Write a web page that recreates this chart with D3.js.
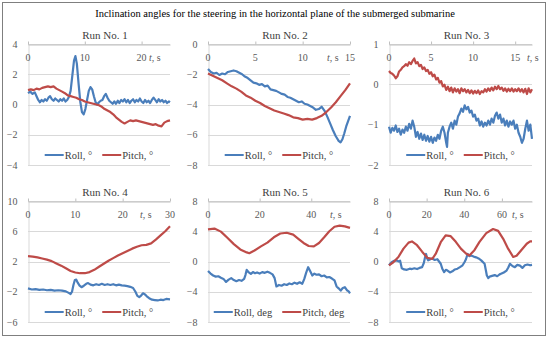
<!DOCTYPE html>
<html>
<head>
<meta charset="utf-8">
<script src="https://cdn.jsdelivr.net/npm/d3@7"></script>
<style>
  body { margin: 0; background: #fff; }
  svg { display: block; font-family: "Liberation Serif", "DejaVu Serif", serif; }
</style>
</head>
<body>
<div class="chart"></div>
<script>
const chartTitle = "Inclination angles for the steering in the horizontal plane of the submerged submarine";
const runTitles = ["Run No. 1", "Run No. 2", "Run No. 3", "Run No. 4", "Run No. 5", "Run No. 6"];
const legendLabels = [
  ["Roll, °", "Pitch, °"], ["Roll, °", "Pitch, °"], ["Roll, °", "Pitch, °"],
  ["Roll, °", "Pitch, °"], ["Roll, deg", "Pitch, deg"], ["Roll, °", "Pitch, °"]
];
const xDomains = [[0, 25], [0, 15], [0, 17], [0, 30], [0, 55], [0, 76]];
const xTickValues = [[0, 10, 20], [0, 5, 10, 15], [0, 5, 10, 15], [0, 10, 20, 30], [0, 20, 40], [0, 20, 40, 60]];
const yTickValues = [[-4, -2, 0, 2, 4], [-8, -6, -4, -2, 0], [-2, -1, 0, 1], [-6, -2, 2, 6, 10], [-8, -4, 0, 4, 8], [-8, -4, 0, 4, 8]];

// [t, deg]
const run1Roll = [[0,0.75],[0.4,0.85],[0.8,0.7],[1.2,0.8],[1.5,0.55],[1.8,0.3],[2.1,0.15],[2.4,0.3],[2.7,0.2],[3.0,0.35],[3.3,0.25],[3.6,0.45],[3.9,0.55],[4.2,0.35],[4.5,0.25],[4.8,0.4],[5.1,0.3],[5.4,0.2],[5.7,0.35],[6.0,0.25],[6.3,0.4],[6.6,0.2],[6.9,0.3],[7.2,0.5],[7.5,0.9],[7.8,1.9],[8.1,2.9],[8.35,3.2],[8.6,2.7],[8.9,1.4],[9.2,0.2],[9.5,-0.5],[9.8,-0.65],[10.1,-0.3],[10.4,0.3],[10.7,0.9],[11.0,1.15],[11.3,1.0],[11.6,0.55],[11.9,0.15],[12.2,0.0],[12.5,0.15],[12.8,0.25],[13.1,0.3],[13.4,0.55],[13.7,0.7],[14.0,0.45],[14.3,0.25],[14.6,0.15],[14.9,0.05],[15.2,0.2],[15.5,0.05],[15.8,0.25],[16.1,0.1],[16.4,0.3],[16.7,0.2],[17.0,0.35],[17.3,0.15],[17.6,0.3],[17.9,0.1],[18.2,0.25],[18.5,0.35],[18.8,0.15],[19.1,0.3],[19.4,0.2],[19.7,0.4],[20.0,0.2],[20.3,0.1],[20.6,0.3],[20.9,0.15],[21.2,0.25],[21.5,0.1],[21.8,0.3],[22.1,0.45],[22.4,0.3],[22.7,0.15],[23.0,0.35],[23.3,0.2],[23.6,0.3],[23.9,0.15],[24.2,0.25],[24.5,0.1],[24.8,0.2],[25,0.15]];
const run1Pitch = [[0,0.95],[0.5,1.0],[1.0,0.95],[1.5,1.05],[2.0,1.0],[2.5,1.1],[3.0,1.15],[3.5,1.2],[4.0,1.15],[4.5,1.2],[5.0,1.05],[5.5,0.95],[6.0,0.85],[6.5,0.75],[7.0,0.6],[7.5,0.55],[8.0,0.5],[8.5,0.45],[9.0,0.35],[9.5,0.3],[10.0,0.2],[10.5,0.15],[11.0,0.1],[11.5,0.05],[12.0,0.0],[12.5,-0.05],[13.0,-0.15],[13.5,-0.3],[14.0,-0.4],[14.5,-0.5],[15.0,-0.65],[15.5,-0.85],[16.0,-1.0],[16.5,-1.15],[17.0,-1.25],[17.5,-1.15],[18.0,-1.05],[18.5,-1.1],[19.0,-1.05],[19.5,-1.1],[20.0,-1.15],[20.5,-1.2],[21.0,-1.25],[21.5,-1.3],[22.0,-1.35],[22.5,-1.3],[23.0,-1.4],[23.5,-1.45],[24.0,-1.2],[24.5,-1.1],[25,-1.05]];

const run2Roll = [[0,-1.65],[0.3,-1.85],[0.6,-1.95],[0.9,-1.9],[1.2,-2.05],[1.5,-1.95],[1.8,-2.0],[2.1,-1.85],[2.4,-1.8],[2.7,-1.75],[3.0,-1.8],[3.3,-1.9],[3.6,-2.0],[3.9,-2.15],[4.2,-2.25],[4.5,-2.4],[4.8,-2.55],[5.1,-2.6],[5.4,-2.7],[5.7,-2.65],[6.0,-2.8],[6.3,-2.75],[6.6,-3.0],[6.9,-3.05],[7.2,-3.1],[7.5,-3.2],[7.8,-3.3],[8.1,-3.35],[8.4,-3.5],[8.7,-3.55],[9.0,-3.65],[9.3,-3.75],[9.6,-3.85],[9.9,-3.8],[10.2,-3.95],[10.5,-4.0],[10.8,-4.1],[11.1,-4.2],[11.4,-4.35],[11.7,-4.3],[12.0,-4.15],[12.3,-4.4],[12.6,-4.8],[12.9,-5.25],[13.2,-5.7],[13.5,-6.1],[13.8,-6.4],[14.0,-6.5],[14.2,-6.3],[14.4,-5.9],[14.6,-5.45],[14.8,-5.1],[15,-4.75]];
const run2Pitch = [[0,-1.95],[0.5,-2.1],[1.0,-2.25],[1.5,-2.4],[2.0,-2.6],[2.5,-2.8],[3.0,-2.95],[3.5,-3.15],[4.0,-3.4],[4.5,-3.55],[5.0,-3.75],[5.5,-3.9],[6.0,-4.1],[6.5,-4.25],[7.0,-4.4],[7.5,-4.5],[8.0,-4.6],[8.5,-4.7],[9.0,-4.85],[9.5,-4.9],[10.0,-5.0],[10.5,-4.95],[11.0,-5.0],[11.5,-4.9],[12.0,-4.75],[12.5,-4.5],[13.0,-4.2],[13.5,-3.85],[14.0,-3.45],[14.5,-3.05],[15,-2.6]];

const run3Roll = [[0,-1.05],[0.2,-1.2],[0.4,-1.08],[0.6,-1.15],[0.8,-1.02],[1.0,-1.18],[1.2,-1.1],[1.4,-1.25],[1.6,-1.12],[1.8,-1.2],[2.0,-1.05],[2.2,-1.15],[2.4,-0.98],[2.6,-1.1],[2.8,-0.9],[3.0,-1.05],[3.2,-1.3],[3.4,-1.18],[3.6,-1.35],[3.8,-1.22],[4.0,-1.38],[4.2,-1.25],[4.4,-1.4],[4.6,-1.28],[4.8,-1.42],[5.0,-1.3],[5.2,-1.45],[5.4,-1.32],[5.6,-1.4],[5.8,-1.25],[6.0,-1.35],[6.2,-1.15],[6.4,-1.05],[6.6,-1.2],[6.8,-1.45],[6.9,-1.55],[7.0,-1.2],[7.2,-1.05],[7.4,-0.95],[7.6,-1.1],[7.8,-0.9],[8.0,-1.0],[8.2,-0.8],[8.4,-0.72],[8.6,-0.6],[8.8,-0.68],[9.0,-0.52],[9.2,-0.62],[9.4,-0.56],[9.6,-0.7],[9.8,-0.65],[10.0,-0.8],[10.2,-0.75],[10.4,-0.9],[10.6,-0.85],[10.8,-1.02],[11.0,-0.92],[11.2,-1.05],[11.4,-0.95],[11.6,-1.02],[11.8,-0.9],[12.0,-1.0],[12.2,-0.85],[12.4,-0.95],[12.6,-0.78],[12.8,-0.7],[13.0,-0.85],[13.2,-0.75],[13.4,-0.95],[13.6,-0.85],[13.8,-1.02],[14.0,-0.9],[14.2,-1.05],[14.4,-0.92],[14.6,-1.0],[14.8,-0.9],[15.0,-1.1],[15.2,-1.0],[15.4,-1.2],[15.6,-1.3],[15.8,-1.45],[16.0,-1.35],[16.2,-1.1],[16.4,-0.9],[16.6,-1.15],[16.8,-1.0],[17,-1.35]];
const run3Pitch = [[0,0.33],[0.2,0.28],[0.4,0.26],[0.6,0.22],[0.8,0.15],[1.0,0.2],[1.2,0.32],[1.4,0.36],[1.6,0.42],[1.8,0.45],[2.0,0.5],[2.2,0.46],[2.4,0.55],[2.6,0.5],[2.8,0.58],[3.0,0.64],[3.2,0.52],[3.4,0.55],[3.6,0.45],[3.8,0.48],[4.0,0.38],[4.2,0.42],[4.4,0.33],[4.6,0.36],[4.8,0.26],[5.0,0.3],[5.2,0.2],[5.4,0.24],[5.6,0.12],[5.8,0.16],[6.0,0.04],[6.2,0.08],[6.4,-0.05],[6.6,-0.01],[6.8,-0.14],[7.0,-0.06],[7.2,-0.17],[7.4,-0.08],[7.6,-0.2],[7.8,-0.1],[8.0,-0.18],[8.2,-0.12],[8.4,-0.22],[8.6,-0.1],[8.8,-0.17],[9.0,-0.12],[9.2,-0.2],[9.4,-0.14],[9.6,-0.22],[9.8,-0.15],[10.0,-0.23],[10.2,-0.16],[10.4,-0.22],[10.6,-0.15],[10.8,-0.24],[11.0,-0.17],[11.2,-0.2],[11.4,-0.12],[11.6,-0.18],[11.8,-0.1],[12.0,-0.16],[12.2,-0.08],[12.4,-0.15],[12.6,-0.06],[12.8,-0.12],[13.0,-0.04],[13.2,-0.12],[13.4,-0.08],[13.6,-0.16],[13.8,-0.1],[14.0,-0.18],[14.2,-0.11],[14.4,-0.17],[14.6,-0.1],[14.8,-0.18],[15.0,-0.12],[15.2,-0.17],[15.4,-0.1],[15.6,-0.18],[15.8,-0.12],[16.0,-0.2],[16.2,-0.11],[16.4,-0.24],[16.6,-0.1],[16.8,-0.2],[17,-0.12]];

const run4Roll = [[0,-1.55],[0.8,-1.7],[1.6,-1.65],[2.4,-1.75],[3.2,-1.7],[4,-1.8],[4.8,-1.75],[5.6,-1.85],[6.4,-1.8],[7.2,-1.85],[8,-1.95],[8.6,-2.15],[9.0,-2.3],[9.3,-2.0],[9.6,-1.1],[9.9,-0.45],[10.2,-0.4],[10.5,-0.8],[10.9,-1.2],[11.3,-1.4],[11.8,-1.2],[12.3,-0.95],[12.7,-0.85],[13.2,-1.05],[13.8,-1.15],[14.4,-1.0],[15.0,-1.1],[15.6,-0.95],[16.2,-1.1],[16.8,-1.0],[17.4,-1.1],[18,-1.0],[18.6,-1.15],[19.2,-1.05],[19.8,-1.15],[20.4,-1.2],[21,-1.25],[21.6,-1.35],[22.2,-1.5],[22.7,-2.0],[23.1,-2.55],[23.5,-2.7],[23.9,-2.5],[24.3,-2.2],[24.7,-2.35],[25.1,-2.6],[25.6,-2.85],[26.2,-3.05],[26.8,-3.1],[27.4,-3.15],[28,-3.05],[28.6,-3.1],[29.2,-2.95],[30,-3.0]];
const run4Pitch = [[0,2.7],[1,2.65],[2,2.55],[3,2.4],[4,2.25],[5,2.05],[6,1.75],[7,1.45],[8,1.1],[9,0.75],[10,0.55],[11,0.45],[12,0.45],[13,0.6],[14,0.9],[15,1.3],[16,1.7],[17,2.1],[18,2.45],[19,2.8],[20,3.1],[21,3.4],[22,3.7],[23,3.95],[24,4.15],[25,4.2],[26,4.4],[27,4.9],[28,5.45],[29,6.0],[30,6.65]];

const run5Roll = [[0,-1.25],[1,-1.6],[2,-1.85],[3,-2.0],[4,-1.95],[5,-2.15],[6,-2.3],[7,-2.7],[8,-2.4],[9,-2.2],[10,-2.45],[11,-2.6],[12,-2.45],[13,-2.55],[14,-2.3],[14.5,-1.8],[15,-1.1],[15.8,-1.45],[16.6,-1.65],[17.4,-1.4],[18.2,-1.55],[19,-1.45],[20,-1.6],[21,-1.4],[22,-1.5],[23,-1.35],[24,-1.5],[25,-1.7],[25.8,-2.2],[26.5,-3.3],[27.5,-3.1],[28.5,-3.2],[29.5,-3.0],[30.5,-3.1],[31.5,-2.9],[32.5,-3.0],[33.5,-2.8],[34.5,-2.95],[35.5,-2.75],[36.5,-2.95],[37.3,-2.3],[38,-1.5],[38.8,-0.75],[39.6,-1.3],[40.4,-1.85],[41.2,-1.6],[42,-1.75],[43,-1.7],[44,-1.95],[45,-1.85],[46,-2.1],[47,-2.05],[48,-2.25],[49,-2.5],[49.8,-3.3],[50.6,-3.55],[51.4,-3.85],[52.2,-3.5],[53,-3.4],[53.8,-3.8],[54.5,-3.95],[55,-4.2]];
const run5Pitch = [[0,4.25],[2.5,4.35],[5,3.95],[7.5,3.15],[10,2.3],[12.5,1.6],[15,1.2],[16,1.1],[18,1.45],[20.5,2.0],[23,2.5],[25.5,3.2],[28,3.7],[30.5,3.8],[33,3.55],[35,3.0],[37,2.45],[39,2.05],[41,2.0],[43,2.45],[45,3.2],[47,4.0],[49,4.6],[51,4.75],[53,4.65],[55,4.45]];

const run6Roll = [[0,-0.5],[1.4,-0.1],[2.8,0.1],[4.1,0.15],[5.2,0.0],[5.9,0.1],[6.8,-0.9],[8,-1.05],[9.5,-1.1],[11,-0.95],[12.2,-1.0],[13.5,-0.9],[14.9,-1.0],[16.2,-0.85],[17.6,-0.75],[18.5,-0.2],[19.2,0.6],[19.7,1.0],[20.3,0.4],[20.8,0.15],[22,0.3],[23,0.4],[24.3,0.2],[25.7,0.3],[26.6,0.0],[27.5,-0.3],[28.4,-1.0],[29.3,-1.4],[30.2,-1.1],[31.1,-1.2],[32.4,-1.45],[33.7,-1.3],[35,-1.05],[36.4,-0.95],[37.7,-0.75],[39.1,-0.5],[40.1,-0.1],[40.9,0.3],[41.8,1.0],[42.7,0.7],[43.6,0.8],[45,0.65],[46.3,0.55],[47.6,0.4],[49,0.15],[50.8,-0.3],[51.5,-1.2],[52,-1.85],[52.8,-2.2],[53.5,-2.0],[54.8,-1.9],[56.2,-1.8],[57.5,-1.95],[58.8,-1.7],[59.8,-1.6],[61,-1.45],[62.5,-1.2],[63.4,-0.8],[64.3,-0.3],[65.6,-0.6],[66.9,-0.75],[68.2,-0.45],[69.6,-0.55],[70.9,-0.85],[72.2,-0.5],[73.6,-0.4],[75,-0.5],[76,-0.45]];
const run6Pitch = [[0,-0.5],[2.3,-0.1],[5,0.6],[7.7,1.7],[10.4,2.5],[12.2,2.65],[14.9,2.15],[17.6,1.3],[20.3,0.5],[23,0.35],[24.8,1.0],[27.5,2.55],[30.1,3.45],[32.8,3.35],[35.5,2.6],[38.2,1.7],[40.9,1.05],[42.7,0.8],[45.4,1.5],[48.1,2.6],[51.7,3.75],[55.3,4.3],[58,4.05],[60.7,3.0],[63.3,1.7],[66,0.6],[67.8,0.75],[70.5,1.55],[73.2,2.35],[75,2.65],[76,2.65]];

const rollSeries = [run1Roll, run2Roll, run3Roll, run4Roll, run5Roll, run6Roll];
const pitchSeries = [run1Pitch, run2Pitch, run3Pitch, run4Pitch, run5Pitch, run6Pitch];

const width = 550, height = 339;
const rollColor = "#4a7ebb", pitchColor = "#be4b48";
const colLeft = [28, 208, 389], colRight = [170, 350, 532];
const rowTop = [44, 201], rowBottom = [165, 322];
const unitOffset = [21, 23, 5, 30, 20, 20]; // "t, s" label left of plot right edge

const svg = d3.select('.chart').append('svg')
    .attr('width', width).attr('height', height);

svg.append('rect')
    .attr('x', 2.5).attr('y', 2.5)
    .attr('width', 543).attr('height', 333)
    .attr('fill', '#fff').attr('stroke', '#7f7f7f');

svg.append('text')
    .attr('x', 275).attr('y', 16.5)
    .attr('text-anchor', 'middle')
    .style('font-size', '10.5px').attr('fill', '#000')
    .text(chartTitle);

for (let i = 0; i < 6; i++) {
  const col = i % 3, row = Math.floor(i / 3);
  const left = colLeft[col], right = colRight[col];
  const top = rowTop[row], bottom = rowBottom[row];
  const yt = yTickValues[i];

  const x = d3.scaleLinear().domain(xDomains[i]).range([left, right]);
  const y = d3.scaleLinear().domain([yt[0], yt[yt.length - 1]]).range([bottom, top]);
  const g = svg.append('g');

  // gridlines
  g.selectAll('.grid').data(yt).enter().append('line')
      .attr('x1', left).attr('x2', right)
      .attr('y1', d => Math.round(y(d)) + 0.5).attr('y2', d => Math.round(y(d)) + 0.5)
      .attr('stroke', '#d9d9d9');

  // y axis
  const yAxis = g.append('g')
      .attr('transform', `translate(${left + 0.5},0)`)
      .call(d3.axisLeft(y).tickValues(yt).tickSize(0).tickPadding(11).tickFormat(d3.format('d')));
  yAxis.select('.domain').attr('stroke', '#d9d9d9');
  yAxis.selectAll('text').attr('fill', '#595959').style('font-size', '10px')
      .style('font-family', '"Liberation Serif", serif');

  // x axis sits on top of the plot
  const xAxis = g.append('g')
      .attr('transform', `translate(0,${Math.round(top) + 0.5})`)
      .call(d3.axisTop(x).tickValues(xTickValues[i]).tickSize(3).tickSizeOuter(0).tickFormat(''));
  xAxis.selectAll('path, line').attr('stroke', '#bfbfbf');
  g.selectAll('.xlab').data(xTickValues[i]).enter().append('text')
      .attr('x', d => x(d)).attr('y', top + 17)
      .attr('text-anchor', 'middle')
      .style('font-size', '10px').attr('fill', '#595959')
      .text(d => d);
  const unit = g.append('text')
      .attr('x', right - unitOffset[i]).attr('y', top + 17)
      .style('font-size', '10px').attr('fill', '#595959');
  unit.append('tspan').style('font-style', 'italic').text('t');
  unit.append('tspan').text(', s');

  // run title
  g.append('text')
      .attr('x', (left + right) / 2 + 6).attr('y', top - 5)
      .attr('text-anchor', 'middle')
      .style('font-size', '11px').attr('fill', '#404040')
      .text(runTitles[i]);

  const line = d3.line().x(d => x(d[0])).y(d => y(d[1]));
  g.append('path').datum(rollSeries[i])
      .attr('d', line).attr('fill', 'none')
      .attr('stroke', rollColor).attr('stroke-width', 2.2).attr('stroke-linejoin', 'round');
  g.append('path').datum(pitchSeries[i])
      .attr('d', line).attr('fill', 'none')
      .attr('stroke', pitchColor).attr('stroke-width', 2.2).attr('stroke-linejoin', 'round');

  // legend
  const lg = g.append('g');
  const ly = bottom - 10;
  let cx = 0;
  [rollColor, pitchColor].forEach((c, k) => {
    lg.append('line')
        .attr('x1', cx).attr('x2', cx + 19).attr('y1', ly).attr('y2', ly)
        .attr('stroke', c).attr('stroke-width', 2);
    const t = lg.append('text')
        .attr('x', cx + 20).attr('y', ly + 3.5)
        .style('font-size', '10.5px').attr('fill', '#404040')
        .text(legendLabels[i][k]);
    cx += 20 + t.node().getComputedTextLength() + 10;
  });
  cx -= 10;
  lg.attr('transform', `translate(${(left + right) / 2 - cx / 2},0)`);
}
</script>
</body>
</html>
